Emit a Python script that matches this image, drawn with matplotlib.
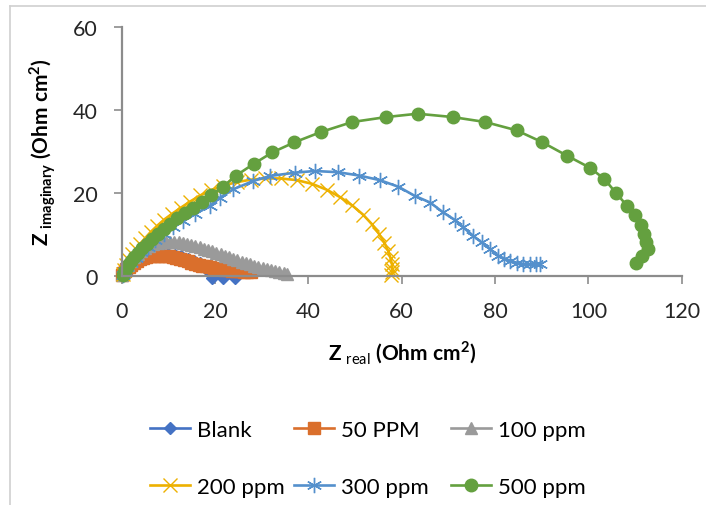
import matplotlib
matplotlib.use("Agg")
import matplotlib.pyplot as plt
from matplotlib.lines import Line2D

plt.rcParams['font.family'] = ['Lato', 'DejaVu Sans']
plt.rcParams['mathtext.fontset'] = 'custom'
plt.rcParams['mathtext.rm'] = 'Lato'
plt.rcParams['mathtext.bf'] = 'Lato:bold'

# Nyquist data (Z real, Z imaginary) in Ohm cm2
blank_x = [0.1, 0.3, 0.7, 1.2, 1.9, 2.7, 3.6, 4.7, 5.9, 7.2, 8.6, 10.0, 11.4, 12.8,
           14.2, 15.5, 16.8, 18.0, 18.8, 19.3, 21.8, 24.3]
blank_y = [0.2, 0.9, 1.7, 2.5, 3.3, 4.0, 4.6, 5.1, 5.4, 5.6, 5.6, 5.4, 5.1, 4.7,
           4.2, 3.7, 3.2, 2.5, 1.0, -0.6, -0.6, -0.4]

p50_x = [0.1, 0.3, 0.6, 1.0, 1.5, 2.0, 2.6, 3.2, 3.9, 4.6, 5.3, 6.1, 6.9, 7.7, 8.5,
         9.3, 10.1, 10.9, 11.7, 12.5, 13.3, 14.1, 14.9, 15.7, 16.5, 17.3, 18.1, 18.9,
         19.7, 20.5, 21.3, 22.1, 22.9, 23.7, 24.5, 25.3, 26.1, 26.9, 27.7]
p50_y = [0.2, 0.6, 1.1, 1.6, 2.2, 2.7, 3.2, 3.6, 4.0, 4.3, 4.5, 4.7, 4.8, 4.9, 4.9,
         4.8, 4.7, 4.5, 4.3, 4.1, 3.8, 3.5, 3.2, 2.9, 2.7, 2.5, 2.3, 2.1,
         1.9, 1.8, 1.6, 1.5, 1.4, 1.3, 1.2, 1.1, 1.0, 0.9, 0.9]

p100_x = [0.1, 0.4, 0.8, 1.3, 1.9, 2.6, 3.4, 4.2, 5.0, 5.9, 6.8, 7.7, 8.6, 9.5, 10.4,
          11.3, 12.2, 13.1, 14.0, 14.9, 15.8, 16.7, 17.6, 18.5, 19.4, 20.3, 21.2,
          22.1, 23.0, 23.9, 24.8, 25.7, 26.6, 27.5, 28.4, 29.3, 30.2, 31.1, 32.0,
          32.9, 33.8, 34.7, 35.5]
p100_y = [0.3, 1.0, 1.8, 2.7, 3.6, 4.5, 5.4, 6.1, 6.7, 7.2, 7.6, 7.9, 8.1, 8.2, 8.3,
          8.2, 8.1, 7.9, 7.7, 7.5, 7.2, 6.9, 6.6, 6.2, 5.9, 5.5, 5.2,
          4.8, 4.5, 4.1, 3.8, 3.4, 3.1, 2.8, 2.5, 2.2, 1.9, 1.6, 1.4,
          1.1, 0.9, 0.7, 0.5]

p200_x = [0.2, 0.5, 0.9, 1.5, 2.2, 3.0, 3.9, 5.0, 6.2, 7.6, 9.1, 10.8, 12.6, 14.6,
          16.8, 19.2, 21.8, 24.6, 27.6, 30.8, 34.1, 37.5, 40.8, 43.9, 46.8, 49.4,
          51.7, 53.6, 55.1, 56.3, 57.1, 57.6, 57.9, 58.0, 57.9, 57.7]
p200_y = [0.5, 1.5, 2.6, 3.9, 5.2, 6.4, 7.7, 9.1, 10.6, 12.1, 13.6, 15.0, 16.4, 17.9,
          19.4, 20.7, 21.8, 22.6, 23.2, 23.5, 23.5, 23.1, 22.2, 20.8, 19.0, 17.0,
          14.8, 12.5, 10.2, 8.0, 6.0, 4.3, 2.9, 1.8, 0.9, 0.3]

p300_x = [0.2, 0.6, 1.2, 2.0, 3.0, 4.2, 5.6, 7.2, 9.0, 11.0, 13.2, 15.6, 18.9, 21.1,
          23.9, 28.2, 31.8, 37.2, 41.4, 46.4, 50.9, 55.3, 59.3, 62.8, 66.1, 68.9,
          71.4, 73.2, 75.3, 77.1, 78.9, 80.7, 82.0, 83.2, 84.6, 86.0, 87.5, 88.8, 89.6]
p300_y = [0.3, 1.1, 2.1, 3.2, 4.4, 5.7, 7.1, 8.6, 10.1, 11.7, 13.3, 14.9, 16.9, 18.9,
          20.9, 22.9, 24.1, 24.9, 25.3, 25.0, 24.2, 23.1, 21.5, 19.3, 17.7, 15.3,
          13.5, 11.7, 9.7, 8.1, 6.5, 4.9, 4.2, 3.7, 3.2, 2.9, 2.8, 2.8, 2.9]

p500_x = [0.2, 0.5, 0.9, 1.4, 2.0, 2.7, 3.5, 4.4, 5.4, 6.5, 7.7, 9.0, 10.4, 11.9,
          13.5, 15.2, 17.1, 19.2, 21.7, 24.5, 28.4, 32.3, 37.0, 42.7, 49.4, 56.7,
          63.4, 70.9, 77.9, 84.6, 90.0, 95.4, 100.3, 103.4, 106.0, 108.3, 110.0,
          111.3, 111.9, 112.3, 112.8, 111.5, 110.3]
p500_y = [0.3, 1.0, 1.8, 2.7, 3.6, 4.6, 5.6, 6.7, 7.8, 9.0, 10.2, 11.4, 12.6, 13.9,
          15.2, 16.5, 17.9, 19.5, 21.5, 24.2, 27.1, 29.8, 32.2, 34.7, 37.1, 38.3,
          39.1, 38.3, 37.1, 35.1, 32.3, 29.0, 26.1, 23.4, 19.9, 16.9, 14.6,
          12.2, 10.0, 8.2, 6.5, 4.8, 3.1]

labels = ['Blank', '50 PPM', '100 ppm', '200 ppm', '300 ppm', '500 ppm']
colors = ['#4472C4', '#DA6F2C', '#9A9A9A', '#EDB100', '#5490CC', '#64A03F']
xs = [blank_x, p50_x, p100_x, p200_x, p300_x, p500_x]
ys = [blank_y, p50_y, p100_y, p200_y, p300_y, p500_y]
markers = ['D', 's', '^', 'x', (6, 2, 0), 'o']
msizes = [6, 9, 9, 10, 11, 9]

fig = plt.figure(figsize=(7.06, 5.06), dpi=100)
ax = fig.add_axes([0.1724, 0.4526, 0.7932, 0.4921])

handles = []
for x, y, lab, c, m, ms in zip(xs, ys, labels, colors, markers, msizes):
    h, = ax.plot(x, y, color=c, lw=1.9, marker=m, markersize=ms, markeredgewidth=1,
                 markeredgecolor=c, markerfacecolor=c, label=lab, clip_on=False)
    handles.append(h)

ax.set_xlim(0, 120)
ax.set_ylim(0, 60)
ax.set_xticks(range(0, 121, 20))
ax.set_yticks(range(0, 61, 20))
for s in ['top', 'right']:
    ax.spines[s].set_visible(False)
for s in ['left', 'bottom']:
    ax.spines[s].set_color('#8C8C8C')
    ax.spines[s].set_linewidth(1.6)
ax.tick_params(axis='both', direction='out', length=6, width=1.2, color='#8C8C8C',
               labelsize=15.5, labelcolor='#262626')
ax.tick_params(axis='x', pad=12)
ax.tick_params(axis='y', pad=11)

ax.set_xlabel(r'Z $_{\rm real}$ (Ohm cm$^{\mathbf{2}}$)', fontsize=15, fontweight='bold',
              labelpad=13)
ax.set_ylabel(r'Z $_{\mathbf{imaginary}}$ (Ohm cm$^{\mathbf{2}}$)', fontsize=15,
              fontweight='bold', labelpad=11)

# legend: three columns placed where the reference puts them
col_x = [150, 294, 451]
for i, cx in enumerate(col_x):
    hs = [handles[i], handles[i + 3]]
    fig.legend(hs, [h.get_label() for h in hs], loc='upper left',
               bbox_to_anchor=(cx / 706, 1 - 421 / 506), frameon=False,
               fontsize=16, handlelength=1.8, handletextpad=0.3,
               labelspacing=1.65, borderpad=0, borderaxespad=0)

# light frame around the chart (top and left visible in reference)
fig.add_artist(Line2D([10 / 706, 10 / 706], [0, 1 - 7 / 506], color='#D0D0D0', lw=1.2))
fig.add_artist(Line2D([10 / 706, 1], [1 - 7 / 506, 1 - 7 / 506], color='#D0D0D0', lw=1.2))

fig.savefig('out.png', dpi=100)
